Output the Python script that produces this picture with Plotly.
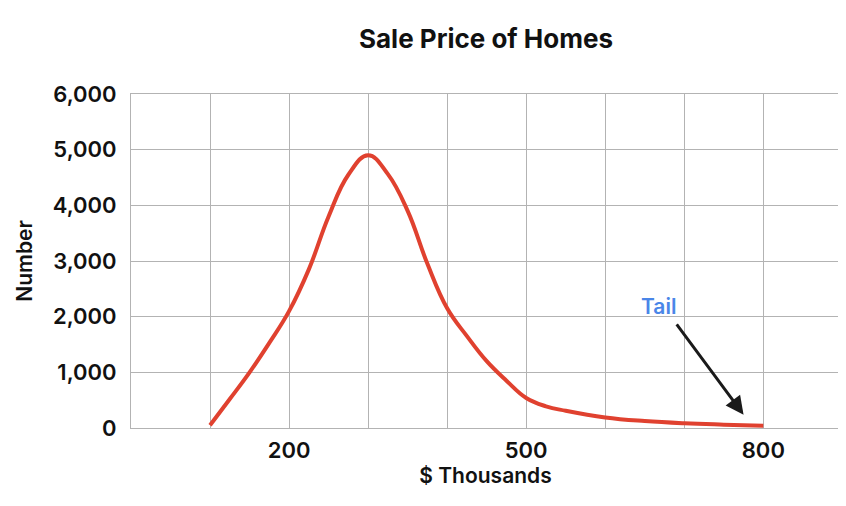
import plotly.graph_objects as go

# Data
price_k = [100, 125, 150, 175, 200, 225, 250, 275, 300, 325, 350, 375, 400,
           425, 450, 475, 500, 525, 550, 600, 650, 700, 750, 800]
num_homes = [50, 520, 1000, 1530, 2100, 2850, 3800, 4550, 4900, 4560, 3900, 2950, 2150,
             1650, 1200, 850, 540, 390, 310, 190, 125, 85, 60, 40]

x_grid_vals = [100, 200, 300, 400, 500, 600, 700, 800]
x_tick_text = ["", "200", "", "", "500", "", "", "800"]
y_tick_vals = [0, 1000, 2000, 3000, 4000, 5000, 6000]
y_tick_text = ["0", "1,000", "2,000", "3,000", "4,000", "5,000", "6,000"]

tail_label = "Tail"
tail_text_pos = (667, 2190)
tail_arrow_from = (689, 1890)
tail_arrow_to = (775, 240)

FONT = "Inter"
GRID = "#b3b3b3"
INK = "#111111"

# the page body adds an 8px offset, so the figure is sized to fit the window
W, H = 838, 498

fig = go.Figure()
fig.add_trace(go.Scatter(
    x=price_k, y=num_homes, mode="lines",
    line=dict(color="#e0412f", width=4, shape="spline", smoothing=1.2),
    hoverinfo="skip", showlegend=False,
))

fig.add_annotation(
    x=tail_arrow_to[0], y=tail_arrow_to[1], xref="x", yref="y",
    ax=tail_arrow_from[0], ay=tail_arrow_from[1], axref="x", ayref="y",
    text="", showarrow=True, arrowhead=2, arrowsize=1.2, arrowwidth=3,
    arrowcolor="#1a1a1a",
)
fig.add_annotation(
    x=tail_text_pos[0], y=tail_text_pos[1], xref="x", yref="y",
    text=tail_label, showarrow=False,
    font=dict(family=FONT, size=21, color="#4a86e8", weight=600),
)

fig.update_layout(
    width=W, height=H,
    margin=dict(l=123, r=6, t=86, b=78, autoexpand=False),
    paper_bgcolor="white", plot_bgcolor="white",
    title=dict(text="Sale Price of Homes", x=478 / W, xanchor="center",
               xref="container", yref="container",
               y=1 - 31 / H, yanchor="middle",
               font=dict(family=FONT, size=26, color=INK, weight=700)),
    font=dict(family=FONT, color=INK),
)
fig.update_xaxes(
    range=[0, 897], tickmode="array", tickvals=x_grid_vals, ticktext=x_tick_text,
    showgrid=True, gridcolor=GRID, gridwidth=1,
    showline=True, linecolor=GRID, linewidth=1, mirror=True,
    zeroline=False, ticks="", automargin=False, ticklabelstandoff=3,
    tickfont=dict(family=FONT, size=22, color=INK, weight=600),
    title=dict(text="$ Thousands", font=dict(family=FONT, size=21, color=INK, weight=600), standoff=5),
)
fig.update_yaxes(
    range=[0, 6000], tickmode="array", tickvals=y_tick_vals, ticktext=y_tick_text,
    showgrid=True, gridcolor=GRID, gridwidth=1,
    showline=True, linecolor=GRID, linewidth=1, mirror=True,
    zeroline=False, ticks="", automargin=False, ticklabelstandoff=9,
    tickfont=dict(family=FONT, size=22, color=INK, weight=600),
    title=dict(text="Number", font=dict(family=FONT, size=21, color=INK, weight=600), standoff=14),
)

fig.write_html("out.html")
